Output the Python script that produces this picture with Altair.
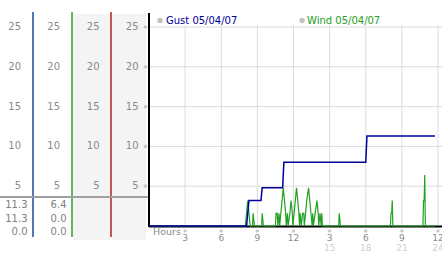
import altair as alt
import pandas as pd

# ---------------- data ----------------
gust_hours = [0.0, 8.1, 8.3, 9.3, 9.4, 11.1, 11.2, 18.0, 18.1, 23.75]
gust_values = [0.0, 0.0, 3.2, 3.2, 4.8, 4.8, 8.0, 8.0, 11.3, 11.3]

wind_hours = [0.0, 8.0, 8.1, 8.2, 8.3, 8.4, 8.6, 8.65, 8.75,
              9.35, 9.4, 9.5,
              10.5, 10.55, 10.65, 10.7, 10.8, 10.85,
              10.95, 11.05, 11.15, 11.25, 11.35, 11.4,
              11.5, 11.55, 11.7, 11.8, 11.9, 11.95,
              12.05, 12.15, 12.25, 12.35, 12.45, 12.5,
              12.55, 12.65, 12.75, 12.85, 12.9,
              13.0, 13.1, 13.25, 13.35, 13.45, 13.55, 13.6, 13.65,
              13.8, 13.95, 14.05, 14.1, 14.2, 14.3, 14.35, 14.4,
              15.75, 15.8, 15.9,
              20.05, 20.1, 20.15, 20.2, 20.25,
              22.75, 22.8, 22.85, 22.9, 22.95, 23.75]
wind_values = [0, 0, 1.6, 3.2, 1.6, 0, 0, 1.6, 0,
               0, 1.6, 0,
               0, 1.6, 1.6, 0, 1.6, 0,
               1.6, 3.2, 4.8, 3.2, 1.6, 0,
               1.6, 0, 1.6, 3.2, 1.6, 0,
               1.6, 3.2, 4.8, 3.2, 1.6, 0,
               1.6, 0, 1.6, 1.6, 0,
               1.6, 3.2, 4.8, 3.2, 1.6, 0, 1.6, 0,
               1.6, 3.2, 1.6, 0, 1.6, 0, 1.6, 0,
               0, 1.6, 0,
               0, 1.6, 1.6, 3.2, 0,
               0, 3.2, 3.2, 6.4, 0, 0]

y_ticks = [5, 10, 15, 20, 25]
x_ticks = [3, 6, 9, 12, 15, 18, 21, 24]
x_labels_top = ["3", "6", "9", "12", "3", "6", "9", "12"]
x_labels_bottom = ["", "", "", "", "15", "18", "21", "24"]

gust_stats = ["11.3", "11.3", "0.0"]
wind_stats = ["6.4", "0.0", "0.0"]

legend_labels = ["Gust 05/04/07", "Wind 05/04/07"]

FONT = "DejaVu Sans"
NAVY = "#000099"
GREEN = "#22a022"
LABEL = "#8a8a8a"

gust_df = pd.DataFrame({"hour": gust_hours, "value": gust_values, "i": range(len(gust_hours))})
wind_df = pd.DataFrame({"hour": wind_hours, "value": wind_values, "i": range(len(wind_hours))})
yt_df = pd.DataFrame({"value": y_ticks, "label": [str(v) for v in y_ticks]})
xt_df = pd.DataFrame({"hour": x_ticks, "top": x_labels_top, "bottom": x_labels_bottom})

xs = alt.Scale(domain=[0, 24], range=[149, 438], nice=False, zero=False)
ys = alt.Scale(domain=[0, 25], range=[226, 27], nice=False, zero=False)

one = pd.DataFrame({"a": [0]})
layers = []

# left panel backgrounds
for x1, x2 in [(73, 111), (112, 146)]:
    layers.append(alt.Chart(one).mark_rect(color="#f4f4f4").encode(
        x=alt.value(x1), x2=alt.value(x2), y=alt.value(14), y2=alt.value(240)))

# left panel coloured column lines
for xp, col in [(33, "#1f48a0"), (72, "#2e9e2e"), (111, "#b02020")]:
    layers.append(alt.Chart(one).mark_rule(color=col, strokeWidth=1.5).encode(
        x=alt.value(xp), y=alt.value(12), y2=alt.value(237)))

# separator line
layers.append(alt.Chart(one).mark_rule(color="#a0a0a0", strokeWidth=2).encode(
    x=alt.value(0), x2=alt.value(149), y=alt.value(197)))

# left panel tick labels
for xr in [21, 60, 99.5, 138.5]:
    layers.append(alt.Chart(yt_df).mark_text(align="right", font=FONT, fontSize=10, color=LABEL).encode(
        x=alt.value(xr), y=alt.Y("value:Q", scale=ys, axis=None), text="label:N"))

# y tick glyphs
layers.append(alt.Chart(yt_df).mark_point(shape="cross", angle=45, filled=True, size=14, color="#b0b0b0").encode(
    x=alt.value(145.5), y=alt.Y("value:Q", scale=ys, axis=None)))

# stat values
for i, yp in enumerate([205, 218.5, 232]):
    layers.append(alt.Chart(pd.DataFrame({"t": [gust_stats[i]]})).mark_text(
        align="right", font=FONT, fontSize=10, color="#808080").encode(
        x=alt.value(27.5), y=alt.value(yp), text="t:N"))
    layers.append(alt.Chart(pd.DataFrame({"t": [wind_stats[i]]})).mark_text(
        align="right", font=FONT, fontSize=10, color="#808080").encode(
        x=alt.value(66.5), y=alt.value(yp), text="t:N"))

# grid
layers.append(alt.Chart(yt_df).mark_rule(color="#dcdcdc", strokeWidth=1).encode(
    x=alt.value(149), x2=alt.value(442), y=alt.Y("value:Q", scale=ys, axis=None)))
layers.append(alt.Chart(xt_df).mark_rule(color="#dcdcdc", strokeWidth=1).encode(
    x=alt.X("hour:Q", scale=xs, axis=None), y=alt.value(25), y2=alt.value(226)))

# axes lines
layers.append(alt.Chart(one).mark_rule(color="black", strokeWidth=2).encode(
    x=alt.value(149), y=alt.value(13), y2=alt.value(227)))
layers.append(alt.Chart(one).mark_rule(color="black", strokeWidth=2).encode(
    x=alt.value(149), x2=alt.value(442), y=alt.value(226.5)))

# series
layers.append(alt.Chart(wind_df).mark_line(color=GREEN, strokeWidth=1.2).encode(
    x=alt.X("hour:Q", scale=xs, axis=None), y=alt.Y("value:Q", scale=ys, axis=None), order="i:Q"))
layers.append(alt.Chart(gust_df).mark_line(color=NAVY, strokeWidth=1.5, interpolate="linear").encode(
    x=alt.X("hour:Q", scale=xs, axis=None), y=alt.Y("value:Q", scale=ys, axis=None), order="i:Q"))

# x labels
layers.append(alt.Chart(xt_df).mark_point(shape="cross", angle=45, filled=True, size=14, color="#b0b0b0").encode(
    x=alt.X("hour:Q", scale=xs, axis=None), y=alt.value(231)))
layers.append(alt.Chart(xt_df).mark_text(font=FONT, fontSize=9, color=LABEL).encode(
    x=alt.X("hour:Q", scale=xs, axis=None), y=alt.value(238), text="top:N"))
layers.append(alt.Chart(xt_df).mark_text(font=FONT, fontSize=9, color="#d0d0d0").encode(
    x=alt.X("hour:Q", scale=xs, axis=None), y=alt.value(247.5), text="bottom:N"))
layers.append(alt.Chart(pd.DataFrame({"t": ["Hours"]})).mark_text(
    align="left", font=FONT, fontSize=9.5, color=LABEL).encode(
    x=alt.value(153), y=alt.value(232), text="t:N"))

# legend
for xc, xt, lab, col in [(160, 166, legend_labels[0], NAVY), (302, 307, legend_labels[1], GREEN)]:
    layers.append(alt.Chart(one).mark_point(shape="circle", filled=True, size=30, color="#a8a8a8").encode(
        x=alt.value(xc), y=alt.value(20.5)))
    layers.append(alt.Chart(pd.DataFrame({"t": [lab]})).mark_text(
        align="left", font=FONT, fontSize=10, color=col).encode(
        x=alt.value(xt), y=alt.value(20.5), text="t:N"))

chart = alt.layer(*layers).properties(
    width=442, height=253, padding=0, autosize=alt.AutoSizeParams(type="none"),
    background="white"
).configure_view(stroke=None)

chart.save("out.html", embed_options={"renderer": "svg", "actions": False})
